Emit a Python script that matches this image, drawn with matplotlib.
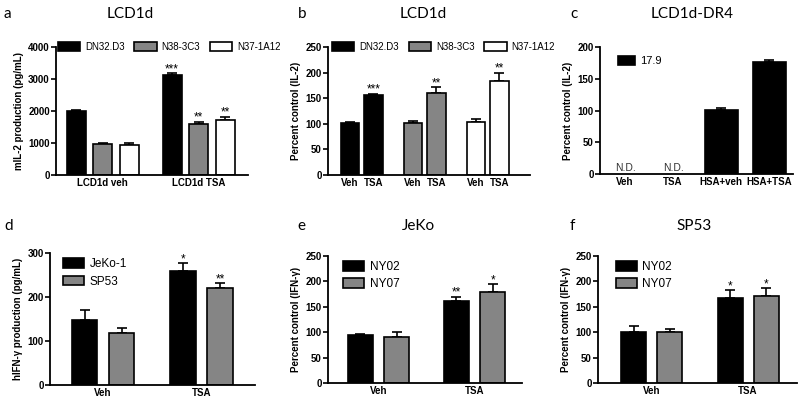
import matplotlib
matplotlib.use("Agg")
import matplotlib.pyplot as plt
from matplotlib.patches import Patch

# ---------------- data ----------------
a_groups = ["LCD1d veh", "LCD1d TSA"]
a_series = ["DN32.D3", "N38-3C3", "N37-1A12"]
a_vals = [[2000, 3130], [975, 1580], [945, 1725]]
a_err = [[20, 60], [40, 90], [50, 100]]
a_stars = [["", "***"], ["", "**"], ["", "**"]]

b_lines = ["DN32.D3", "N38-3C3", "N37-1A12"]
b_conds = ["Veh", "TSA"]
b_vals = [[101, 157], [101, 161], [103, 184]]
b_err = [[2, 2], [5, 10], [6, 16]]
b_stars = [["", "***"], ["", "**"], ["", "**"]]

c_cats = ["Veh", "TSA", "HSA+veh", "HSA+TSA"]
c_vals = [None, None, 101, 176]
c_err = [0, 0, 3, 3]
c_label = "17.9"

d_groups = ["Veh", "TSA"]
d_series = ["JeKo-1", "SP53"]
d_vals = [[147, 258], [118, 220]]
d_err = [[24, 19], [12, 11]]
d_stars = [["", "*"], ["", "**"]]

e_groups = ["Veh", "TSA"]
e_series = ["NY02", "NY07"]
e_vals = [[94, 162], [91, 179]]
e_err = [[3, 8], [10, 15]]
e_stars = [["", "**"], ["", "*"]]

f_groups = ["Veh", "TSA"]
f_series = ["NY02", "NY07"]
f_vals = [[101, 168], [100, 171]]
f_err = [[12, 15], [7, 16]]
f_stars = [["", "*"], ["", "*"]]

# ---------------- style ----------------
GRAY = "#858585"
FILLS3 = ["black", GRAY, "white"]
FILLS2 = ["black", GRAY]
TICKFONT = "Liberation Sans"
TITLEFONT = "Lato"
W, H = 800, 403

fig = plt.figure(figsize=(8, 4.03), dpi=100)


def make_ax(l, r, t, b):
    return fig.add_axes([l / W, 1 - b / H, (r - l) / W, (b - t) / H])


def style_ax(ax, l, r, ylim, yticks, ylabel):
    ax.set_xlim(l, r)
    ax.set_ylim(*ylim)
    ax.set_yticks(yticks)
    for s in ["top", "right"]:
        ax.spines[s].set_visible(False)
    for s in ["left", "bottom"]:
        ax.spines[s].set_linewidth(1.3)
    ax.tick_params(axis="y", direction="out", length=3.5, width=1.2, pad=1,
                   labelsize=7)
    ax.tick_params(axis="x", length=0, pad=2, labelsize=7)
    for lab in ax.get_yticklabels() + ax.get_xticklabels():
        lab.set_fontfamily(TICKFONT)
        lab.set_fontweight("bold")
    ax.set_ylabel(ylabel, fontsize=7, fontweight="bold", family=TICKFONT,
                  labelpad=3)


def bars(ax, xs, vals, errs, color, width, stars=None):
    ax.bar(xs, vals, width=width, color=color, edgecolor="black",
           linewidth=1.2, zorder=2)
    ax.errorbar(xs, vals, yerr=[[0] * len(vals), errs], fmt="none",
                ecolor="black", elinewidth=1.2, capsize=3.5, capthick=1.2,
                zorder=1)
    if stars:
        for x, v, e, s in zip(xs, vals, errs, stars):
            if s:
                ax.annotate(s, (x, v + e), xytext=(0, -1.5),
                            textcoords="offset points", ha="center",
                            va="bottom", fontsize=8.5, family=TICKFONT)


def panel_text(letter, lx, title, tx, y):
    fig.text(lx / W, 1 - y / H, letter, fontsize=11, family=TITLEFONT,
             va="center", ha="left")
    if title:
        fig.text(tx / W, 1 - y / H, title, fontsize=11, family=TITLEFONT,
                 va="center", ha="center")


def legend(ax, labels, colors, ncol, x, y, rowgap=0.3, colsp=1.2, size=7,
           hlen=2.3):
    handles = [Patch(facecolor=c, edgecolor="black", linewidth=1.2)
               for c in colors]
    lg = ax.legend(handles, labels, ncol=ncol, loc="upper left",
                   bbox_to_anchor=(x, y), frameon=False,
                   handlelength=hlen, handleheight=0.9, handletextpad=0.5,
                   columnspacing=colsp, borderpad=0, borderaxespad=0,
                   labelspacing=rowgap, prop={"family": TICKFONT, "size": size})
    return lg


# ---------------- panel a ----------------
l, r = 56, 248
ax = make_ax(l, r, 47, 175)
x0, gstep, pitch, wid = 102.5, 96, 26.5, 19
for s, name in enumerate(a_series):
    xs = [x0 + g * gstep + (s - 1) * pitch for g in range(len(a_groups))]
    bars(ax, xs, a_vals[s], a_err[s], FILLS3[s], wid, a_stars[s])
ax.set_xticks([x0 + g * gstep for g in range(len(a_groups))])
ax.set_xticklabels(a_groups)
style_ax(ax, l, r, (0, 4000), [0, 1000, 2000, 3000, 4000],
         "mIL-2 production (pg/mL)")
legend(ax, a_series, FILLS3, 3, 0.01, 1.04, colsp=1.0)
panel_text("a", 4, "LCD1d", 130, 14)

# ---------------- panel b ----------------
l, r = 328, 530
ax = make_ax(l, r, 47, 175)
x0, gstep, pitch, wid = 361.5, 63, 23.5, 18.5
ticks, labels = [], []
for g, name in enumerate(b_lines):
    xs = [x0 + g * gstep + (c - 0.5) * pitch for c in range(len(b_conds))]
    bars(ax, xs, b_vals[g], b_err[g], FILLS3[g], wid, b_stars[g])
    ticks += xs
    labels += b_conds
ax.set_xticks(ticks)
ax.set_xticklabels(labels)
style_ax(ax, l, r, (0, 250), [0, 50, 100, 150, 200, 250],
         "Percent control (IL-2)")
legend(ax, b_lines, FILLS3, 3, 0.02, 1.04, colsp=1.0)
panel_text("b", 298, "LCD1d", 423, 14)

# ---------------- panel c ----------------
l, r = 600, 793
ax = make_ax(l, r, 47, 174)
x0, step, wid = 625, 48, 33
xs = [x0 + i * step for i in range(len(c_cats))]
pxs = [x for x, v in zip(xs, c_vals) if v is not None]
pv = [v for v in c_vals if v is not None]
pe = [e for e, v in zip(c_err, c_vals) if v is not None]
bars(ax, pxs, pv, pe, "black", wid)
for x, v in zip(xs, c_vals):
    if v is None:
        ax.text(x, 1, "N.D.", ha="center", va="bottom", fontsize=7.5,
                family=TICKFONT, color="#333333")
ax.set_xticks(xs)
ax.set_xticklabels(c_cats)
style_ax(ax, l, r, (0, 200), [0, 50, 100, 150, 200], "Percent control (IL-2)")
legend(ax, [c_label], ["black"], 1, 0.093, 0.93, size=8, hlen=1.5)
panel_text("c", 570, "LCD1d-DR4", 692, 14)

# ---------------- panels d, e, f ----------------
def two_series(l, r, t, b, groups, series, vals, errs, stars, x0, gstep,
               pitch, wid, ylim, yticks, ylabel, lx, ly):
    ax = make_ax(l, r, t, b)
    for s in range(len(series)):
        xs = [x0 + g * gstep + (s - 0.5) * pitch for g in range(len(groups))]
        bars(ax, xs, vals[s], errs[s], FILLS2[s], wid, stars[s])
    ax.set_xticks([x0 + g * gstep for g in range(len(groups))])
    ax.set_xticklabels(groups)
    style_ax(ax, l, r, ylim, yticks, ylabel)
    legend(ax, series, FILLS2, 1, lx, ly, rowgap=0.45, size=8.5, hlen=1.75)
    return ax


two_series(50, 255, 253, 385, d_groups, d_series, d_vals, d_err, d_stars,
           103, 98.5, 37, 25.5, (0, 300), [0, 100, 200, 300],
           "hIFN-γ production (pg/mL)", 0.063, 0.96)
panel_text("d", 4, None, 0, 226)

two_series(328, 522, 256, 383, e_groups, e_series, e_vals, e_err, e_stars,
           378.5, 96, 36.5, 25, (0, 250), [0, 50, 100, 150, 200, 250],
           "Percent control (IFN-γ)", 0.077, 0.96)
panel_text("e", 297, "JeKo", 418, 226)

two_series(598, 797, 256, 383, f_groups, f_series, f_vals, f_err, f_stars,
           651.5, 96.5, 36, 25, (0, 250), [0, 50, 100, 150, 200, 250],
           "Percent control (IFN-γ)", 0.09, 0.96)
panel_text("f", 570, "SP53", 694, 226)

fig.savefig("out.png", dpi=100)
